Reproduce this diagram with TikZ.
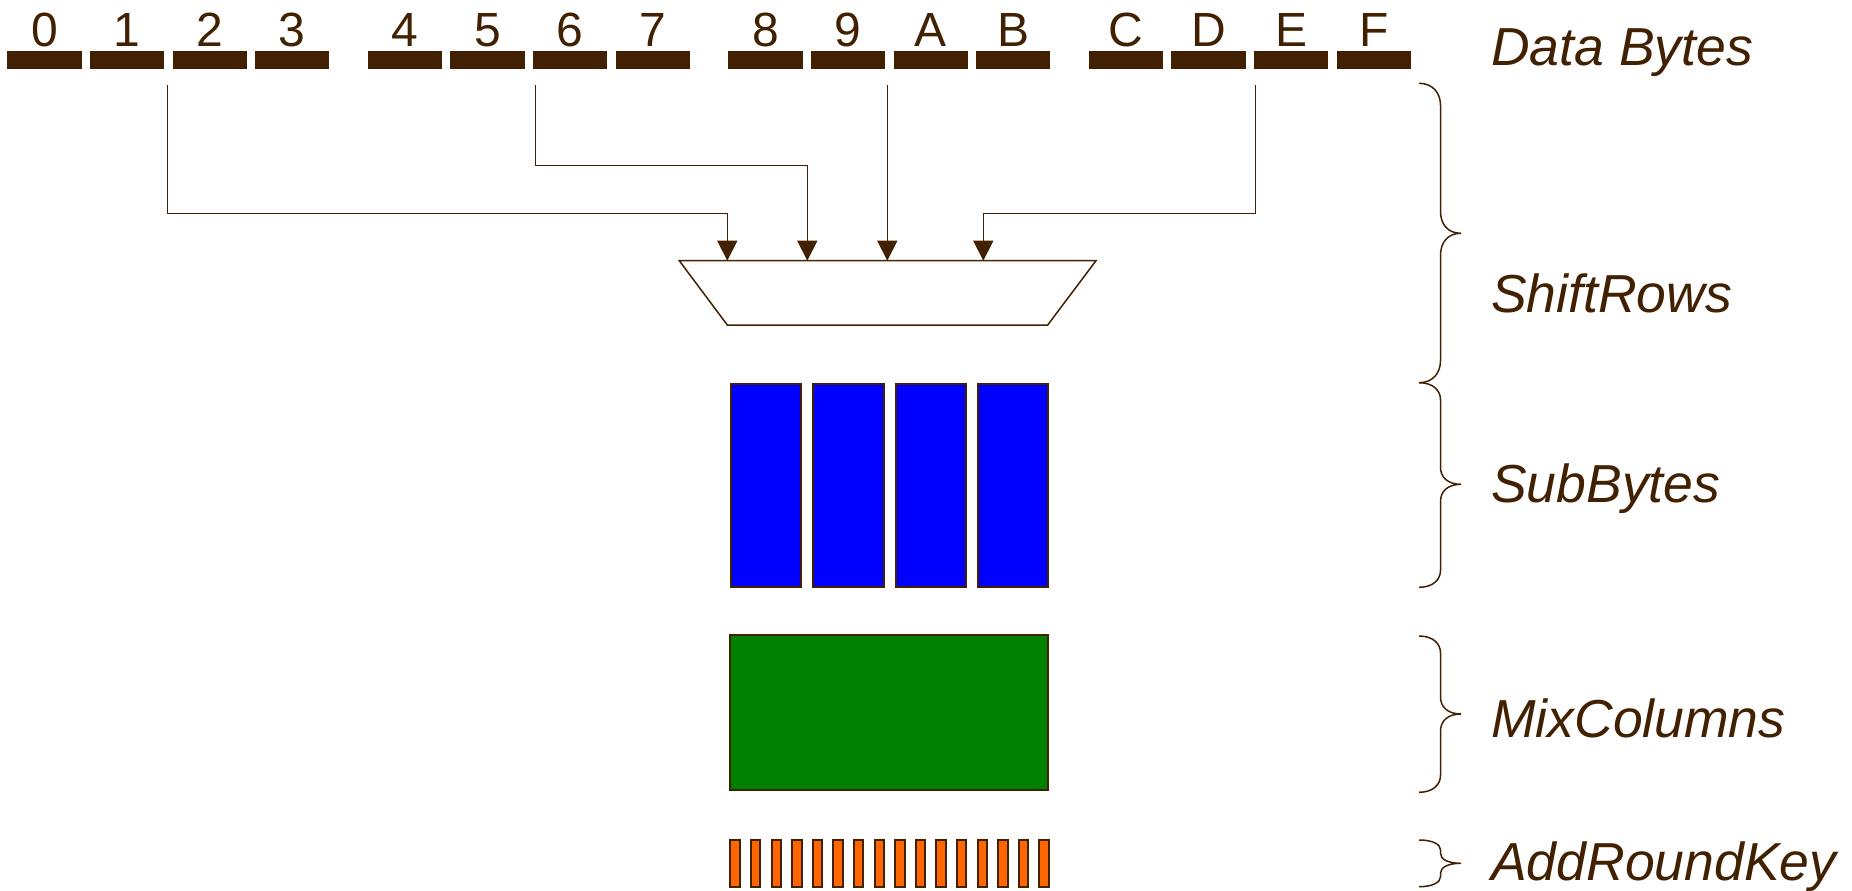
\documentclass[tikz,border=0pt]{standalone}
\usepackage{fontspec}
\setmainfont{Liberation Sans}
\usetikzlibrary{arrows.meta}

\definecolor{umber}{RGB}{66,33,2}
\definecolor{sboxblue}{RGB}{0,0,255}
\definecolor{mixgreen}{RGB}{0,128,0}
\definecolor{keyorange}{RGB}{255,102,0}

% curly bracket on the right: top y, tip y, bottom y, curl size
\newcommand\stagebrace[4]{%
  \draw[bracestyle] (1419,#1) .. controls (1433,#1) and (1440.5,{#1+0.45*#4}) .. (1440.5,{#1+#4})
    -- (1440.5,{#2-#4}) .. controls (1440.5,{#2-0.45*#4}) and (1447,#2) .. (1461,#2)
    .. controls (1447,#2) and (1440.5,{#2+0.45*#4}) .. (1440.5,{#2+#4})
    -- (1440.5,{#3-#4}) .. controls (1440.5,{#3-0.45*#4}) and (1433,#3) .. (1419,#3);}

\tikzset{
  databar/.style={rectangle, fill=umber, draw=none, inner sep=0pt, outer sep=0pt,
    minimum width=74.3pt, minimum height=18pt},
  digit/.style={anchor=base, inner sep=0pt, text=umber, font=\fontsize{48}{52}\selectfont},
  stagelabel/.style={anchor=base west, inner sep=0pt, text=umber,
    font=\fontsize{53.5}{60}\selectfont\itshape},
  conn/.style={draw=umber, line width=1.5pt, -{Triangle[length=20pt,width=20pt]}},
  bracestyle/.style={draw=umber, line width=1.5pt},
  stagebox/.style={draw=umber, line width=1.5pt, fill=white, line join=miter},
  sboxcell/.style={rectangle, draw=umber, line width=2pt, fill=sboxblue, inner sep=0pt,
    minimum width=70.3pt, minimum height=203.3pt},
  mixbox/.style={rectangle, draw=umber, line width=2pt, fill=mixgreen, inner sep=0pt,
    minimum width=318pt, minimum height=155pt},
  keycell/.style={rectangle, draw=umber, line width=2pt, fill=keyorange, inner sep=0pt,
    minimum width=9.4pt, minimum height=46.4pt},
}

\begin{document}
\begin{tikzpicture}[x=1pt, y=-1pt]
  \useasboundingbox (0,0) rectangle (1852,891);

  % sixteen data bytes in four groups
  \foreach \i/\t in {0/0,1/1,2/2,3/3,4/4,5/5,6/6,7/7,8/8,9/9,10/A,11/B,12/C,13/D,14/E,15/F} {
    \pgfmathsetmacro\grp{int(\i/4)}
    \pgfmathsetmacro\pos{mod(\i,4)}
    \pgfmathsetmacro\xc{7.3+\grp*360.5+\pos*82.6+37.15}
    \node[databar] (b\t) at (\xc,60) {};
    \node[digit] (d\t) at (\xc,46.7) {\t};
  }

  % ShiftRows selector
  \draw[stagebox] (679.3,260.7) -- (1096,260.7) -- (1047.7,325) -- (727.3,325) -- cycle;
  \coordinate (t1) at (727.3,260.7);
  \coordinate (t2) at (807.3,260.7);
  \coordinate (t3) at (887.3,260.7);
  \coordinate (t4) at (983.3,260.7);

  % byte taps
  \coordinate (s1) at (167.3,85);
  \coordinate (s2) at (535.3,85);
  \coordinate (s3) at (887.3,85);
  \coordinate (s4) at (1255.7,85);
  \draw[conn] (s1) -- ++(0,128.3) -| (t1);
  \draw[conn] (s2) -- ++(0,80.3) -| (t2);
  \draw[conn] (s3) -- (t3);
  \draw[conn] (s4) -- ++(0,128.3) -| (t4);

  % SubBytes cells
  \foreach \k in {0,...,3}
    \node[sboxcell] (sb\k) at ({730+\k*82.3+36.15},485.35) {};

  % MixColumns block
  \node[mixbox] (mix) at (889,712.5) {};

  % AddRoundKey cells
  \foreach \k in {0,...,15}
    \node[keycell] (rk\k) at ({729.3+\k*20.6+5.7},863.5) {};

  % stage brackets
  \stagebrace{83.3}{233.3}{382.7}{22}
  \stagebrace{382.7}{484.3}{587.3}{17}
  \stagebrace{636}{714}{792.3}{17}
  \stagebrace{840}{863.3}{886.7}{10}

  % stage names
  \node[stagelabel] (lData)  at (1491,66)    {Data Bytes};
  \node[stagelabel] (lShift) at (1491,312.3) {ShiftRows};
  \node[stagelabel] (lSub)   at (1491,502.7) {SubBytes};
  \node[stagelabel] (lMix)   at (1491,737.7) {MixColumns};
  \node[stagelabel] (lKey)   at (1491,880)   {AddRoundKey};
\end{tikzpicture}
\end{document}
